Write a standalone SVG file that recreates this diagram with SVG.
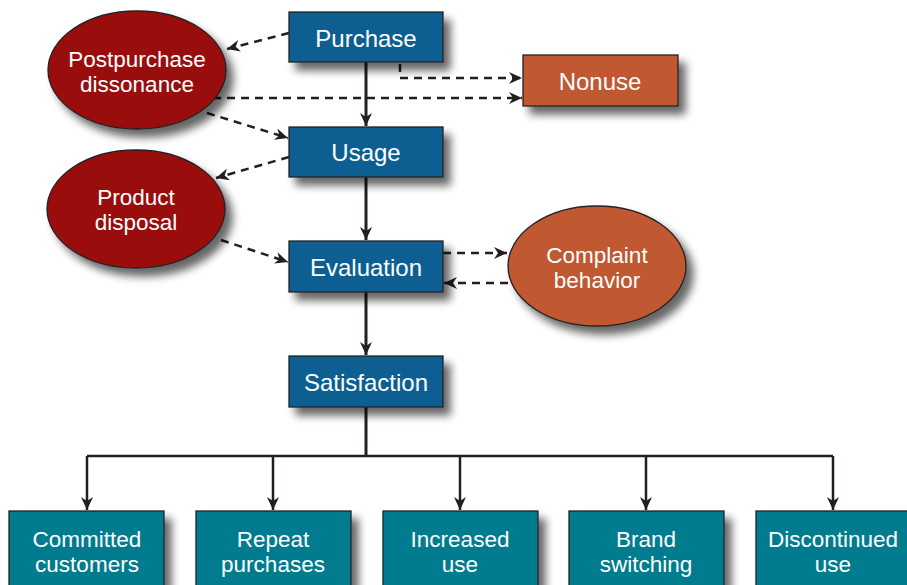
<svg xmlns="http://www.w3.org/2000/svg" width="907" height="585" viewBox="0 0 907 585">
<defs>
<filter id="sh" x="-20%" y="-20%" width="150%" height="160%">
<feGaussianBlur in="SourceAlpha" stdDeviation="4"/>
<feOffset dx="7" dy="8" result="b"/>
<feComponentTransfer><feFuncA type="linear" slope="0.6"/></feComponentTransfer>
<feMerge><feMergeNode/><feMergeNode in="SourceGraphic"/></feMerge>
</filter>
<marker id="ah" markerWidth="14" markerHeight="12" refX="13" refY="6" orient="auto" markerUnits="userSpaceOnUse">
<path d="M0,0 L13,6 L0,12 L4,6 Z" fill="#231f20"/>
</marker>
</defs>
<style>
.blue{fill:#0a5f92;stroke:#222;stroke-width:1.3}
.teal{fill:#007b8e;stroke:#222;stroke-width:1.3}
.red{fill:#9a0a10;stroke:#222;stroke-width:1.3}
.orange{fill:#c05832;stroke:#222;stroke-width:1.3}
text{font-family:"Liberation Sans",Arial,sans-serif;font-size:24px;fill:#fff;text-anchor:middle}
text.two{font-size:22.5px}
.solid{stroke:#231f20;stroke-width:3;fill:none}
.dash{stroke:#231f20;stroke-width:2.5;fill:none;stroke-dasharray:8,6}
</style>
<rect width="907" height="585" fill="#fff"/>
<g id="connectors">
<path class="solid" d="M366,62 V126" marker-end="url(#ah)"/>
<path class="solid" d="M366,177 V240" marker-end="url(#ah)"/>
<path class="solid" d="M366,292 V355" marker-end="url(#ah)"/>
<path class="solid" d="M366,407 V456"/>
<path class="solid" style="stroke-width:2.5" d="M87,456 H833"/>
<path class="solid" style="stroke-width:2.5" d="M87,456 V510" marker-end="url(#ah)"/>
<path class="solid" style="stroke-width:2.5" d="M273,456 V510" marker-end="url(#ah)"/>
<path class="solid" style="stroke-width:2.5" d="M460,456 V510" marker-end="url(#ah)"/>
<path class="solid" style="stroke-width:2.5" d="M646,456 V510" marker-end="url(#ah)"/>
<path class="solid" style="stroke-width:2.5" d="M833,456 V510" marker-end="url(#ah)"/>
<path class="dash" d="M289,33 L227,49" marker-end="url(#ah)"/>
<path class="dash" d="M400,64 V78 H522" marker-end="url(#ah)"/>
<path class="dash" d="M213,98 H522" marker-end="url(#ah)"/>
<path class="dash" d="M207,113 L288,138" marker-end="url(#ah)"/>
<path class="dash" d="M289,157 L216,178" marker-end="url(#ah)"/>
<path class="dash" d="M221,240 L288,262" marker-end="url(#ah)"/>
<path class="dash" d="M443,253 H507" marker-end="url(#ah)"/>
<path class="dash" d="M508,283 H444" marker-end="url(#ah)"/>
</g>
<g id="postpurchase"><ellipse class="red" filter="url(#sh)" cx="137" cy="70" rx="89" ry="59"/><text class="two" x="137" y="66.5">Postpurchase</text><text class="two" x="137" y="91.8">dissonance</text></g>
<g id="disposal"><ellipse class="red" filter="url(#sh)" cx="136" cy="209" rx="89" ry="59"/><text class="two" x="136" y="204.5">Product</text><text class="two" x="136" y="229.8">disposal</text></g>
<g id="complaint"><ellipse class="orange" filter="url(#sh)" cx="597" cy="266" rx="89" ry="60"/><text class="two" x="597" y="262.5">Complaint</text><text class="two" x="597" y="287.8">behavior</text></g>
<g id="purchase"><rect class="blue" filter="url(#sh)" x="289" y="12" width="154" height="50"/><text x="366" y="47">Purchase</text></g>
<g id="usage"><rect class="blue" filter="url(#sh)" x="289" y="127" width="154" height="50"/><text x="366" y="161">Usage</text></g>
<g id="evaluation"><rect class="blue" filter="url(#sh)" x="289" y="241" width="154" height="51"/><text x="366" y="276">Evaluation</text></g>
<g id="satisfaction"><rect class="blue" filter="url(#sh)" x="289" y="356" width="154" height="51"/><text x="366" y="391">Satisfaction</text></g>
<g id="nonuse"><rect class="orange" filter="url(#sh)" x="523" y="55" width="155" height="51"/><text x="600" y="90">Nonuse</text></g>
<g id="committed"><rect class="teal" filter="url(#sh)" x="9" y="511" width="155" height="90"/><text class="two" x="87" y="546.5">Committed</text><text class="two" x="87" y="571.8">customers</text></g>
<g id="repeat"><rect class="teal" filter="url(#sh)" x="196" y="511" width="155" height="90"/><text class="two" x="273" y="546.5">Repeat</text><text class="two" x="273" y="571.8">purchases</text></g>
<g id="increased"><rect class="teal" filter="url(#sh)" x="383" y="511" width="155" height="90"/><text class="two" x="460" y="546.5">Increased</text><text class="two" x="460" y="571.8">use</text></g>
<g id="brand"><rect class="teal" filter="url(#sh)" x="569" y="511" width="155" height="90"/><text class="two" x="646" y="546.5">Brand</text><text class="two" x="646" y="571.8">switching</text></g>
<g id="discontinued"><rect class="teal" filter="url(#sh)" x="756" y="511" width="160" height="90"/><text class="two" x="833" y="546.5">Discontinued</text><text class="two" x="833" y="571.8">use</text></g>
</svg>
